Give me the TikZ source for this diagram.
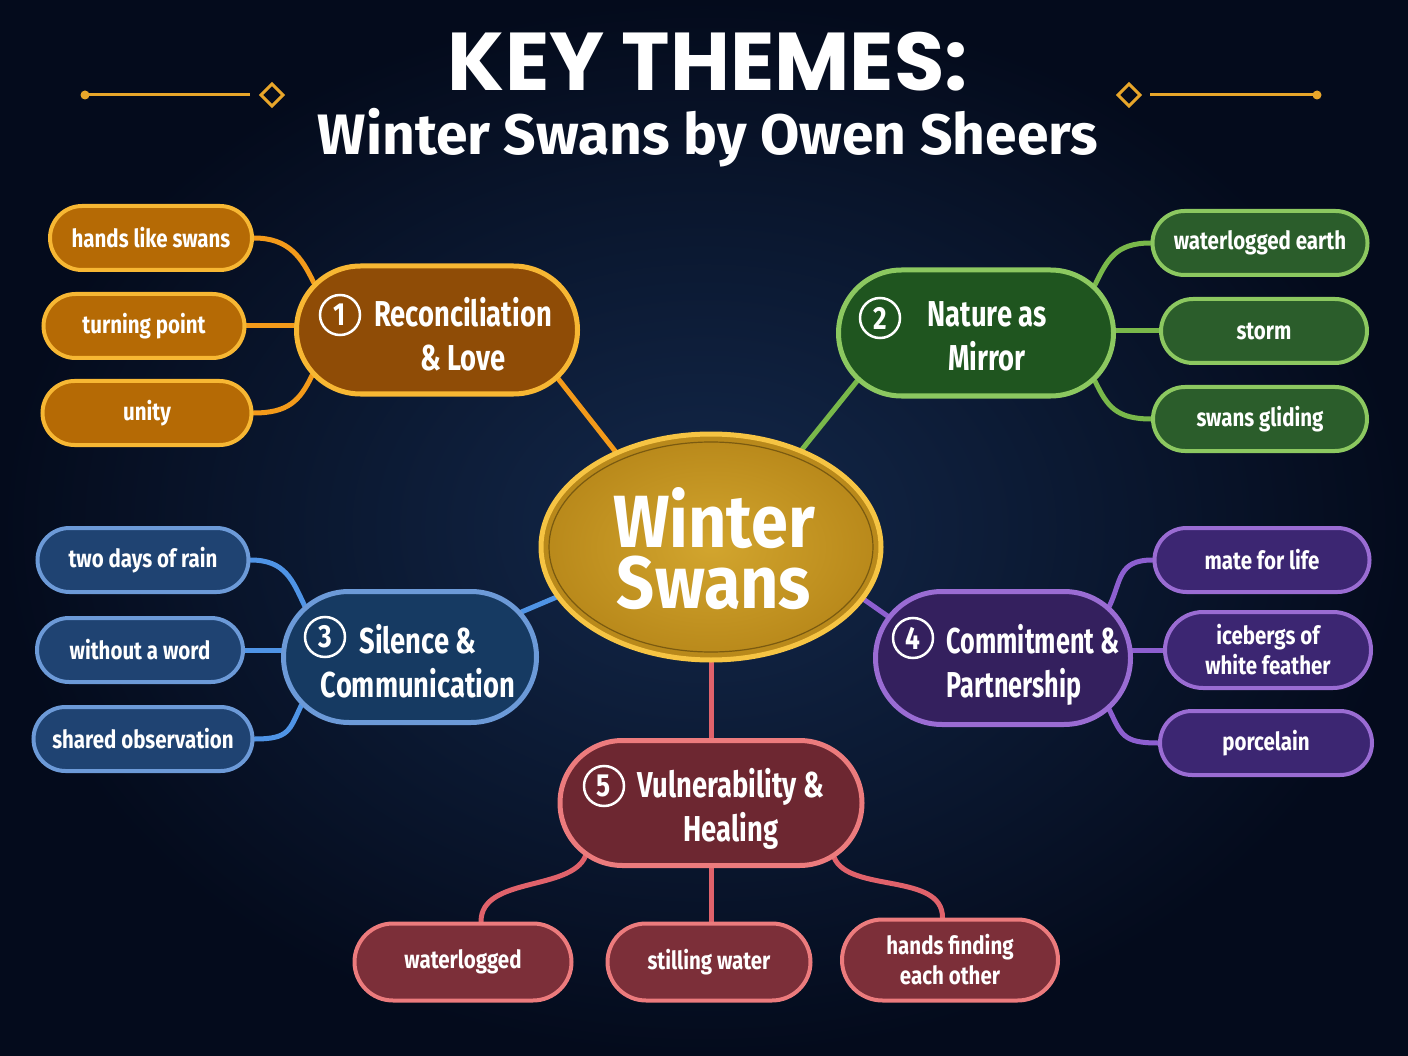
\documentclass[tikz,border=0pt]{standalone}
\usepackage{fontspec}
\setmainfont{Fira Sans}
\newfontfamily\narrowfont{Fira Sans}[FakeStretch=0.82]
\newfontfamily\themefamily{Fira Sans}[FakeStretch=0.76]
\newfontfamily\tightfamily{Fira Sans}[FakeStretch=0.7]
\newfontfamily\centrefamily{Fira Sans}[FakeStretch=0.9]
\newfontfamily\headfont{Poppins}
\usetikzlibrary{shapes.misc,shapes.geometric,calc}

\definecolor{bgin}{HTML}{13284A}
\definecolor{bgout}{HTML}{040B1C}
\definecolor{deco}{HTML}{E8A62A}
\definecolor{goldline}{HTML}{F6C443}
\definecolor{goldin}{HTML}{D2A52E}
\definecolor{goldout}{HTML}{B8881A}
\definecolor{goldedge}{HTML}{7A5A10}
% orange
\definecolor{orgline}{HTML}{F7B733}
\definecolor{orgfill}{HTML}{8F4C06}
\definecolor{orgleaf}{HTML}{B56A05}
\definecolor{orgconn}{HTML}{F39A1A}
% green
\definecolor{grnline}{HTML}{8CC860}
\definecolor{grnfill}{HTML}{1F551F}
\definecolor{grnleaf}{HTML}{2B5D2B}
\definecolor{grnconn}{HTML}{79B84A}
% blue
\definecolor{bluline}{HTML}{6C9AD8}
\definecolor{blufill}{HTML}{163A62}
\definecolor{bluleaf}{HTML}{1F4372}
\definecolor{bluconn}{HTML}{4F94E6}
% purple
\definecolor{purline}{HTML}{9A6CD3}
\definecolor{purfill}{HTML}{34205E}
\definecolor{purleaf}{HTML}{3C2672}
\definecolor{purconn}{HTML}{8D5FD0}
% red
\definecolor{redline}{HTML}{EC7B7D}
\definecolor{redfill}{HTML}{6D2731}
\definecolor{redleaf}{HTML}{7C2F39}
\definecolor{redconn}{HTML}{E0626B}

\newcommand\leaffont{\narrowfont\bfseries\fontsize{25}{30}\selectfont}
\newcommand\themefont{\themefamily\bfseries\fontsize{36}{44}\selectfont}
\newcommand\badgefont{\narrowfont\bfseries\fontsize{32}{32}\selectfont}

\pgfdeclarelayer{bg}
\pgfdeclarelayer{lines}
\pgfsetlayers{bg,lines,main}

\tikzset{
  theme/.style={rounded rectangle, line width=5pt, minimum height=128pt, inner sep=0pt},
  leaf/.style={rounded rectangle, line width=4pt, minimum height=64pt, inner sep=0pt,
    text=white, font=\leaffont, align=center},
  themetxt/.style={text=white, font=\themefont, align=center, inner sep=0pt},
  centretxt/.style={text=white, inner sep=0pt, font=\centrefamily\bfseries\fontsize{74}{66}\selectfont},
  badge/.style={circle, draw=white, line width=2.5pt, minimum size=40pt, inner sep=0pt,
    text=white, font=\badgefont},
  conn/.style={line width=5pt, line cap=round},
  ornament/.style={draw=deco, line width=3pt},
}

\begin{document}
\begin{tikzpicture}[x=1pt,y=-1pt]
\useasboundingbox (0,0) rectangle (1408,1056);
\begin{pgfonlayer}{bg}
\shade[inner color=bgin, outer color=bgout] (0,0) rectangle (1408,1056);
\end{pgfonlayer}
%title
\node[text=white, inner sep=0pt, font=\headfont\bfseries\fontsize{82}{84}\selectfont] (head) at (708,62) {KEY THEMES:};
\node[text=white, inner sep=0pt, font=\bfseries\fontsize{57}{60}\selectfont] (sub) at (708,138) {Winter Swans by Owen Sheers};
%ornaments
\draw[ornament] (85,95) -- (250,95);
\fill[deco] (85,95) circle (4.5);
\draw[ornament] (272,84) -- (283,95) -- (272,106) -- (261,95) -- cycle;
\draw[ornament] (1150,95) -- (1317,95);
\fill[deco] (1317,95) circle (4.5);
\draw[ornament] (1129,84) -- (1140,95) -- (1129,106) -- (1118,95) -- cycle;

%centre
\node[ellipse, draw=goldline, line width=5pt, inner color=goldin, outer color=goldout,
  minimum width=340pt, minimum height=226pt] (ws) at (711,547) {};
\draw[goldedge, line width=1.2pt] (ws.center) ellipse [x radius=162, y radius=105];
\node[centretxt] (ws-a) at (714,518) {Winter};
\node[centretxt] (ws-b) at (714,583) {Swans};

%theme 1
\node[theme, draw=orgline, fill=orgfill, minimum width=281pt] (rec) at (437,330) {};
\node[badge] (rec-n) at (340,315) {1};
\node[themetxt] (rec-t) at (463,334) {Reconciliation\\\& Love};
\node[leaf, draw=orgline, fill=orgleaf, minimum width=202pt] (hands) at (151,238) {hands like swans};
\node[leaf, draw=orgline, fill=orgleaf, minimum width=201pt] (turn) at (144,326) {turning point};
\node[leaf, draw=orgline, fill=orgleaf, minimum width=209pt] (unity) at (147,413) {unity};

%theme 2
\node[theme, draw=grnline, fill=grnfill, minimum width=275pt, minimum height=126pt] (nat) at (976,333) {};
\node[badge] (nat-n) at (880,318) {2};
\node[themetxt] (nat-t) at (987,336) {Nature as\\Mirror};
\node[leaf, draw=grnline, fill=grnleaf, minimum width=215pt] (wet) at (1260,243) {waterlogged earth};
\node[leaf, draw=grnline, fill=grnleaf, minimum width=206pt] (storm) at (1264,331) {storm};
\node[leaf, draw=grnline, fill=grnleaf, minimum width=214pt] (glide) at (1260,419) {swans gliding};

%theme 3
\node[theme, draw=bluline, fill=blufill, minimum width=253pt, minimum height=131pt] (sil) at (410,657) {};
\node[badge] (sil-n) at (325,637) {3};
\node[themetxt] (sil-t) at (418,661) {Silence \&\\Communication};
\node[leaf, draw=bluline, fill=bluleaf, minimum width=211pt] (rain) at (143,560) {two days of rain};
\node[leaf, draw=bluline, fill=bluleaf, minimum width=206pt] (word) at (140,650) {without a word};
\node[leaf, draw=bluline, fill=bluleaf, minimum width=219pt] (shared) at (143,739) {shared observation};

%theme 4
\node[theme, draw=purline, fill=purfill, minimum width=255pt, minimum height=133pt] (com) at (1003,658) {};
\node[badge] (com-n) at (913,638) {4};
\node[themetxt, align=left, font=\tightfamily\bfseries\fontsize{36}{44}\selectfont] (com-t) at (1033,665) {Commitment \&\\Partnership};
\node[leaf, draw=purline, fill=purleaf, minimum width=215pt] (mate) at (1262,560) {mate for life};
\node[leaf, draw=purline, fill=purleaf, minimum width=206pt, minimum height=76pt] (ice) at (1268,650) {icebergs of\\white feather};
\node[leaf, draw=purline, fill=purleaf, minimum width=212pt] (porc) at (1266,743) {porcelain};

%theme 5
\node[theme, draw=redline, fill=redfill, minimum width=302pt, minimum height=125pt] (vul) at (711,803) {};
\node[badge] (vul-n) at (604,786) {5};
\node[themetxt] (vul-t) at (731,809) {Vulnerability \&\\Healing};
\node[leaf, draw=redline, fill=redleaf, minimum width=217pt, minimum height=77pt] (wlog) at (463,962) {waterlogged};
\node[leaf, draw=redline, fill=redleaf, minimum width=203pt, minimum height=77pt] (still) at (709,962) {stilling water};
\node[leaf, draw=redline, fill=redleaf, minimum width=216pt, minimum height=81pt] (hf) at (950,960) {hands finding\\each other};

%connectors
\begin{pgfonlayer}{lines}
\draw[conn, orgconn] (rec.-22) -- (ws.135);
\draw[conn, orgconn] (hands.east) .. controls +(35,0) and +(-12,-25) .. (rec.159);
\draw[conn, orgconn] (turn.east) -- (turn.east -| rec.west);
\draw[conn, orgconn] (unity.east) .. controls +(35,0) and +(-12,25) .. (rec.200);
\draw[conn, grnconn] (nat.202) -- (ws.47);
\draw[conn, grnconn] (nat.22) .. controls +(12,-25) and +(-35,0) .. (wet.west);
\draw[conn, grnconn] (storm.west) -- (storm.west -| nat.east);
\draw[conn, grnconn] (nat.-22) .. controls +(12,25) and +(-35,0) .. (glide.west);
\draw[conn, bluconn] (sil.22) -- (ws.198);
\draw[conn, bluconn] (rain.east) .. controls +(35,0) and +(-12,-25) .. (sil.154);
\draw[conn, bluconn] (word.east) -- (word.east -| sil.west);
\draw[conn, bluconn] (shared.east) .. controls +(35,0) and +(-12,25) .. (sil.204);
\draw[conn, purconn] (com.160) -- (ws.-19);
\draw[conn, purconn] (com.26) .. controls +(12,-25) and +(-35,0) .. (mate.west);
\draw[conn, purconn] (ice.west) -- (ice.west -| com.east);
\draw[conn, purconn] (com.-26) .. controls +(12,25) and +(-35,0) .. (porc.west);
\draw[conn, redconn] (ws.south) -- (vul.north);
\draw[conn, redconn] (vul.south) -- (vul.south |- still.north);
\draw[conn, redconn] (vul.203) .. controls +(-15,35) and +(0,-45) .. (wlog.66);
\draw[conn, redconn] (vul.-24) .. controls +(15,35) and +(0,-45) .. (hf.100);
\end{pgfonlayer}
\end{tikzpicture}
\end{document}
